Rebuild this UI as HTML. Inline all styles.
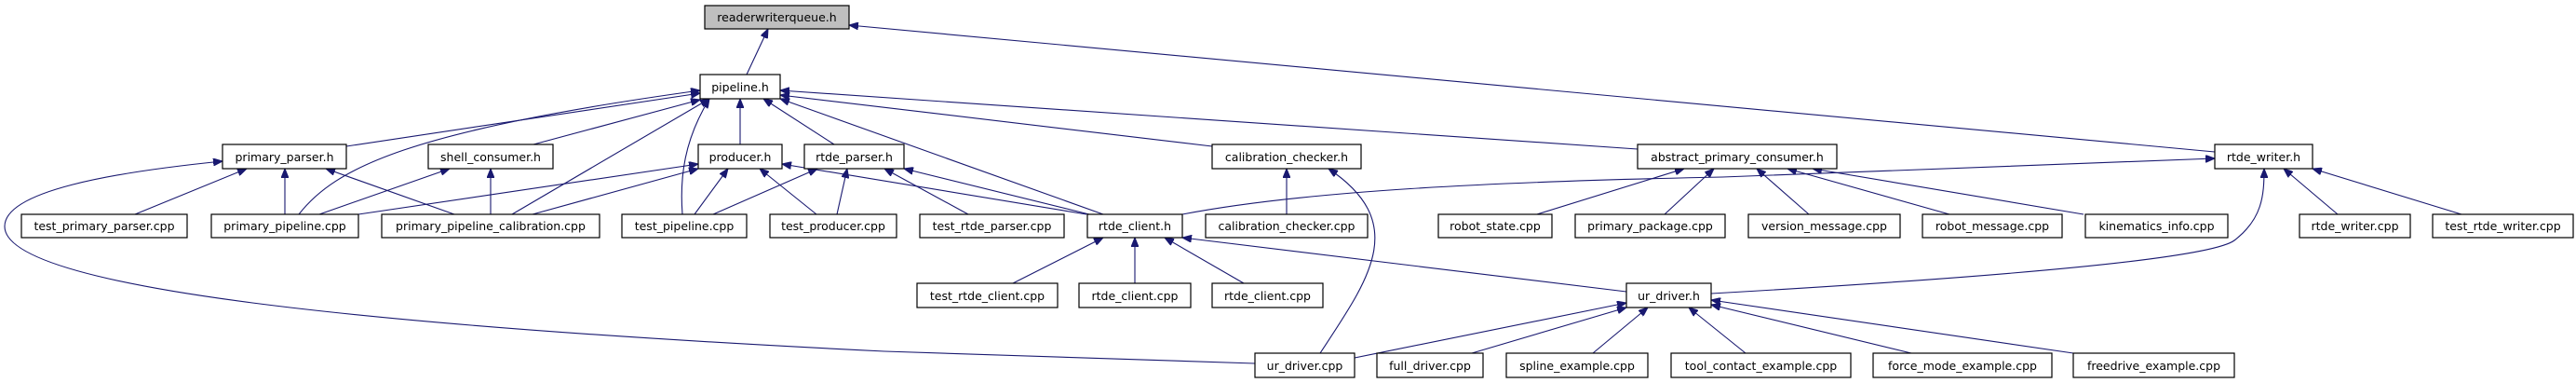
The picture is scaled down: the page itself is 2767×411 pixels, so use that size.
<!DOCTYPE html>
<html><head><meta charset="utf-8"><style>
html,body{margin:0;padding:0;background:#fff;}
svg{display:block;}
text{font-family:"DejaVu Sans","Liberation Sans",sans-serif;font-size:12.5px;fill:#000;}
.e{fill:none;stroke:#191970;stroke-width:1.1;marker-end:url(#a);}
.n{fill:#fff;stroke:#000;stroke-width:1.2;}
</style></head><body>
<svg width="2767" height="411" viewBox="0 0 2767 411" xmlns="http://www.w3.org/2000/svg">
<defs><marker id="a" markerUnits="userSpaceOnUse" markerWidth="11" markerHeight="8" refX="10" refY="4" orient="auto"><path d="M0,0 L10,4 L0,8 z" fill="#191970" stroke="#191970"/></marker></defs>
<g>
<path class="e" d="M802,80 L825,31"/>
<path class="e" d="M2379,163 L912,27"/>
<path class="e" d="M372,157 L752,100"/>
<path class="e" d="M321,230 C360,180 440,140 752,97"/>
<path class="e" d="M573,155 L752,107"/>
<path class="e" d="M550,230 L762,106"/>
<path class="e" d="M733,230 C730,190 735,150 762,106"/>
<path class="e" d="M795,155 L795,106"/>
<path class="e" d="M896,155 L820,106"/>
<path class="e" d="M1185,230 L838,106"/>
<path class="e" d="M1302,157 L838,102"/>
<path class="e" d="M1759,160 L838,97"/>
<path class="e" d="M145,230 L265,181"/>
<path class="e" d="M306,230 L306,181"/>
<path class="e" d="M488,230 L350,181"/>
<path class="e" d="M1348,390 L950,377 C400,350 5,310 5,243 C5,205 120,185 239,173"/>
<path class="e" d="M343,230 L483,181"/>
<path class="e" d="M527,230 L527,181"/>
<path class="e" d="M385,230 L750,176"/>
<path class="e" d="M572,230 L750,181"/>
<path class="e" d="M746,230 L782,181"/>
<path class="e" d="M877,230 L816,181"/>
<path class="e" d="M1167,230 L840,176"/>
<path class="e" d="M766,230 L878,181"/>
<path class="e" d="M899,230 L910,181"/>
<path class="e" d="M1040,230 L950,181"/>
<path class="e" d="M1170,230 L971,181"/>
<path class="e" d="M1382,230 L1382,181"/>
<path class="e" d="M1418,379 C1470,300 1515,240 1427,181"/>
<path class="e" d="M1270,230 C1400,205 1600,195 1850,190 L2379,170"/>
<path class="e" d="M1651,230 L1809,181"/>
<path class="e" d="M1788,230 L1841,181"/>
<path class="e" d="M1943,230 L1887,181"/>
<path class="e" d="M2094,230 L1920,181"/>
<path class="e" d="M2238,230 L1947,181"/>
<path class="e" d="M2511,230 L2453,181"/>
<path class="e" d="M2644,230 L2484,181"/>
<path class="e" d="M1838,315 C2100,300 2370,280 2400,258 C2430,235 2432,210 2432,181"/>
<path class="e" d="M1088,304 L1185,255"/>
<path class="e" d="M1219,304 L1219,255"/>
<path class="e" d="M1336,304 L1251,255"/>
<path class="e" d="M1747,313 L1270,255"/>
<path class="e" d="M1455,384 L1747,325"/>
<path class="e" d="M1581,379 L1747,330"/>
<path class="e" d="M1711,379 L1770,330"/>
<path class="e" d="M1875,379 L1814,330"/>
<path class="e" d="M2053,379 L1838,327"/>
<path class="e" d="M2227,379 L1838,322"/>
</g>
<g>
<rect x="757" y="6" width="155" height="25" fill="#bfbfbf" stroke="#000" stroke-width="1.2"/><text x="834.5" y="23" text-anchor="middle">readerwriterqueue.h</text>
<rect class="n" x="752" y="80" width="86" height="26"/><text x="795" y="98" text-anchor="middle">pipeline.h</text>

<rect class="n" x="239" y="155" width="133" height="26"/><text x="305.5" y="173" text-anchor="middle">primary_parser.h</text>
<rect class="n" x="460" y="155" width="134" height="26"/><text x="527" y="173" text-anchor="middle">shell_consumer.h</text>
<rect class="n" x="750" y="155" width="90" height="26"/><text x="795" y="173" text-anchor="middle">producer.h</text>
<rect class="n" x="864" y="155" width="107" height="26"/><text x="917.5" y="173" text-anchor="middle">rtde_parser.h</text>
<rect class="n" x="1302" y="155" width="160" height="26"/><text x="1382" y="173" text-anchor="middle">calibration_checker.h</text>
<rect class="n" x="1759" y="155" width="214" height="26"/><text x="1866" y="173" text-anchor="middle">abstract_primary_consumer.h</text>
<rect class="n" x="2379" y="155" width="105" height="26"/><text x="2431.5" y="173" text-anchor="middle">rtde_writer.h</text>

<rect class="n" x="23" y="230" width="178" height="25"/><text x="112" y="247" text-anchor="middle">test_primary_parser.cpp</text>
<rect class="n" x="227" y="230" width="158" height="25"/><text x="306" y="247" text-anchor="middle">primary_pipeline.cpp</text>
<rect class="n" x="410" y="230" width="234" height="25"/><text x="527" y="247" text-anchor="middle">primary_pipeline_calibration.cpp</text>
<rect class="n" x="668" y="230" width="134" height="25"/><text x="735" y="247" text-anchor="middle">test_pipeline.cpp</text>
<rect class="n" x="827" y="230" width="136" height="25"/><text x="895" y="247" text-anchor="middle">test_producer.cpp</text>
<rect class="n" x="988" y="230" width="155" height="25"/><text x="1065.5" y="247" text-anchor="middle">test_rtde_parser.cpp</text>
<rect class="n" x="1168" y="230" width="102" height="25"/><text x="1219" y="247" text-anchor="middle">rtde_client.h</text>
<rect class="n" x="1295" y="230" width="174" height="25"/><text x="1382" y="247" text-anchor="middle">calibration_checker.cpp</text>
<rect class="n" x="1545" y="230" width="122" height="25"/><text x="1606" y="247" text-anchor="middle">robot_state.cpp</text>
<rect class="n" x="1692" y="230" width="161" height="25"/><text x="1772.5" y="247" text-anchor="middle">primary_package.cpp</text>
<rect class="n" x="1878" y="230" width="163" height="25"/><text x="1959.5" y="247" text-anchor="middle">version_message.cpp</text>
<rect class="n" x="2065" y="230" width="150" height="25"/><text x="2140" y="247" text-anchor="middle">robot_message.cpp</text>
<rect class="n" x="2240" y="230" width="153" height="25"/><text x="2316.5" y="247" text-anchor="middle">kinematics_info.cpp</text>
<rect class="n" x="2470" y="230" width="119" height="25"/><text x="2529.5" y="247" text-anchor="middle">rtde_writer.cpp</text>
<rect class="n" x="2613" y="230" width="151" height="25"/><text x="2688.5" y="247" text-anchor="middle">test_rtde_writer.cpp</text>

<rect class="n" x="985" y="304" width="151" height="26"/><text x="1060.5" y="322" text-anchor="middle">test_rtde_client.cpp</text>
<rect class="n" x="1159" y="304" width="120" height="26"/><text x="1219" y="322" text-anchor="middle">rtde_client.cpp</text>
<rect class="n" x="1302" y="304" width="119" height="26"/><text x="1361.5" y="322" text-anchor="middle">rtde_client.cpp</text>
<rect class="n" x="1747" y="304" width="91" height="26"/><text x="1792.5" y="322" text-anchor="middle">ur_driver.h</text>

<rect class="n" x="1348" y="379" width="107" height="26"/><text x="1401.5" y="397" text-anchor="middle">ur_driver.cpp</text>
<rect class="n" x="1479" y="379" width="114" height="26"/><text x="1536" y="397" text-anchor="middle">full_driver.cpp</text>
<rect class="n" x="1618" y="379" width="152" height="26"/><text x="1694" y="397" text-anchor="middle">spline_example.cpp</text>
<rect class="n" x="1795" y="379" width="193" height="26"/><text x="1891.5" y="397" text-anchor="middle">tool_contact_example.cpp</text>
<rect class="n" x="2012" y="379" width="192" height="26"/><text x="2108" y="397" text-anchor="middle">force_mode_example.cpp</text>
<rect class="n" x="2227" y="379" width="173" height="26"/><text x="2313.5" y="397" text-anchor="middle">freedrive_example.cpp</text>
</g>
</svg>
</body></html>
